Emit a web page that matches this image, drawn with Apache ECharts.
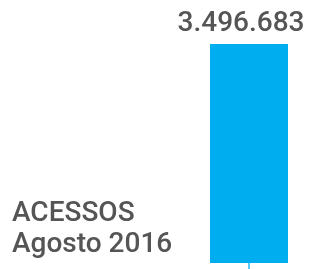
<!DOCTYPE html>
<html>
<head>
<meta charset="utf-8">
<script src="https://cdn.jsdelivr.net/npm/echarts@6/dist/echarts.min.js"></script>
<style>
  html,body{margin:0;padding:0;background:#fff;}
  #main{width:314px;height:269px;}
</style>
</head>
<body>
<div id="main"></div>
<script>
// dados
let categories=['Agosto 2016']
let acessos=[3496683]

let chart=echarts.init(document.getElementById('main'))

function fmt(v){
  return String(v).replace(/\B(?=(\d{3})+(?!\d))/g,'.')
}

let option={
  animation:false,
  title:{
    text:'ACESSOS\nAgosto 2016',
    left:7,
    bottom:4,
    textStyle:{
      color:'#555',
      fontFamily:'Roboto',
      fontSize:28,
      fontWeight:500,
      lineHeight:31
    }
  },
  grid:{left:210,right:26,top:44,bottom:6},
  xAxis:{
    type:'category',
    data:categories,
    axisLine:{show:false},
    axisLabel:{show:false},
    axisTick:{show:true,alignWithLabel:true,length:6,lineStyle:{color:'#5cc8f5',width:2}}
  },
  yAxis:{
    type:'value',
    min:0,
    max:acessos[0],
    show:false,
    splitLine:{show:false}
  },
  series:[{
    type:'bar',
    data:acessos,
    barWidth:'100%',
    itemStyle:{color:'#00aeef'},
    label:{
      show:true,
      position:'top',
      distance:6,
      offset:[-8,0],
      formatter:p=>fmt(p.value),
      color:'#555',
      fontFamily:'Roboto',
      fontSize:28,
      fontWeight:500
    }
  }]
}
chart.setOption(option)
</script>
</body>
</html>
